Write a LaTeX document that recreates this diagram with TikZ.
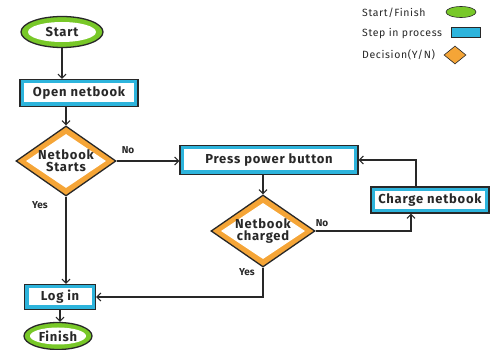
\documentclass[tikz,border=0pt]{standalone}
\usepackage{fontspec}
\setmainfont{Fira Sans}
\usetikzlibrary{shapes.geometric,arrows.meta}
\definecolor{gr}{RGB}{120,200,40}
\definecolor{cy}{RGB}{45,180,220}
\definecolor{orn}{RGB}{245,165,55}
\definecolor{ink}{RGB}{40,40,40}
\tikzset{
  outline/.style={draw=ink, line width=1.3pt, inner sep=0pt},
  inner/.style={fill=white, inner sep=0pt},
  txt/.style={inner sep=0pt, font=\bfseries\fontsize{13}{14}\selectfont\addfontfeatures{LetterSpace=6}, text=ink, align=center},
  term/.style={outline, ellipse, fill=gr},
  termin/.style={inner, ellipse},
  proc/.style={outline, rectangle, fill=cy},
  procin/.style={inner, rectangle},
  dec/.style={outline, diamond, fill=orn},
  decin/.style={inner, diamond},
  conn/.style={draw=ink, line width=1.1pt, -{Straight Barb[length=4pt,width=8pt]}},
  lbl/.style={font=\bfseries\fontsize{10}{12}\selectfont, text=ink},
  legtxt/.style={font=\fontsize{10.5}{12}\selectfont\addfontfeatures{LetterSpace=6}, text=ink, anchor=west, inner sep=0pt},
  legshape/.style={draw=ink, line width=0.6pt, inner sep=0pt}
}
\begin{document}
\begin{tikzpicture}[x=1pt,y=-1pt]
\useasboundingbox[fill=white] (0,0) rectangle (491,350);
% Start
\node[term, minimum width=82, minimum height=31] (start) at (62,32) {};
\node[termin, minimum width=68, minimum height=20] (starti) at (start) {};
\node[txt] (startt) at (start) {Start};
% Open netbook
\node[proc, minimum width=118, minimum height=27] (open) at (79,93) {};
\node[procin, minimum width=110, minimum height=19] (openi) at (open) {};
\node[txt] (opent) at (open) {Open netbook};
% Netbook starts
\node[dec, minimum width=100, minimum height=70] (starts) at (66,161) {};
\node[decin, minimum width=80, minimum height=54] (startsi) at (starts) {};
\node[txt] (startst) at (starts) {Netbook\\[-2pt]Starts};
% Press power button
\node[proc, minimum width=178, minimum height=29] (press) at (269,160) {};
\node[procin, minimum width=170, minimum height=21] (pressi) at (press) {};
\node[txt] (presst) at (press) {Press power button};
% Netbook charged
\node[dec, minimum width=104, minimum height=72] (charged) at (263,231) {};
\node[decin, minimum width=84, minimum height=56] (chargedi) at (charged) {};
\node[txt] (chargedt) at (charged) {Netbook\\[-2pt]charged};
% Charge netbook
\node[proc, minimum width=118, minimum height=26] (charge) at (430,200) {};
\node[procin, minimum width=110, minimum height=18] (chargei) at (charge) {};
\node[txt] (charget) at (charge) {Charge netbook};
% Log in
\node[proc, minimum width=71, minimum height=25] (login) at (60,297) {};
\node[procin, minimum width=63, minimum height=17] (logini) at (login) {};
\node[txt] (logint) at (login) {Log in};
% Finish
\node[term, minimum width=68, minimum height=27] (finish) at (58,336) {};
\node[termin, minimum width=56, minimum height=17] (finishi) at (finish) {};
\node[txt] (finisht) at (finish) {Finish};
% connectors
\draw[conn] (start.south) -- (start.south |- open.north);
\draw[conn] (starts.north |- open.south) -- (starts.north);
\draw[conn] (starts.east) -- (starts.east -| press.west);
\draw[conn] (starts.south) -- (starts.south |- login.north);
\draw[conn] (charged.north |- press.south) -- (charged.north);
\draw[conn] (charged.east) -| ([xshift=-19pt]charge.south);
\draw[conn] ([xshift=-14pt]charge.north) |- (press.east);
\draw[conn] (charged.south) |- (login.east);
\draw[conn] (login.south) -- (login.south |- finish.north);
% labels
\node[lbl] (no1) at (128,150) {No};
\node[lbl] (yes1) at (40,205) {Yes};
\node[lbl] (no2) at (322,223) {No};
\node[lbl] (yes2) at (247,272) {Yes};
% legend
\node[legtxt] (l1) at (362,13) {Start/Finish};
\node[legtxt] (l2) at (362,34) {Step in process};
\node[legtxt] (l3) at (362,55) {Decision(Y/N)};
\node[legshape, ellipse, fill=gr, minimum width=30, minimum height=11] (s1) at (461,12) {};
\node[legshape, rectangle, fill=cy, minimum width=29, minimum height=10] (s2) at (466,32) {};
\node[legshape, diamond, fill=orn, minimum width=22, minimum height=18] (s3) at (455,55) {};
\end{tikzpicture}
\end{document}
